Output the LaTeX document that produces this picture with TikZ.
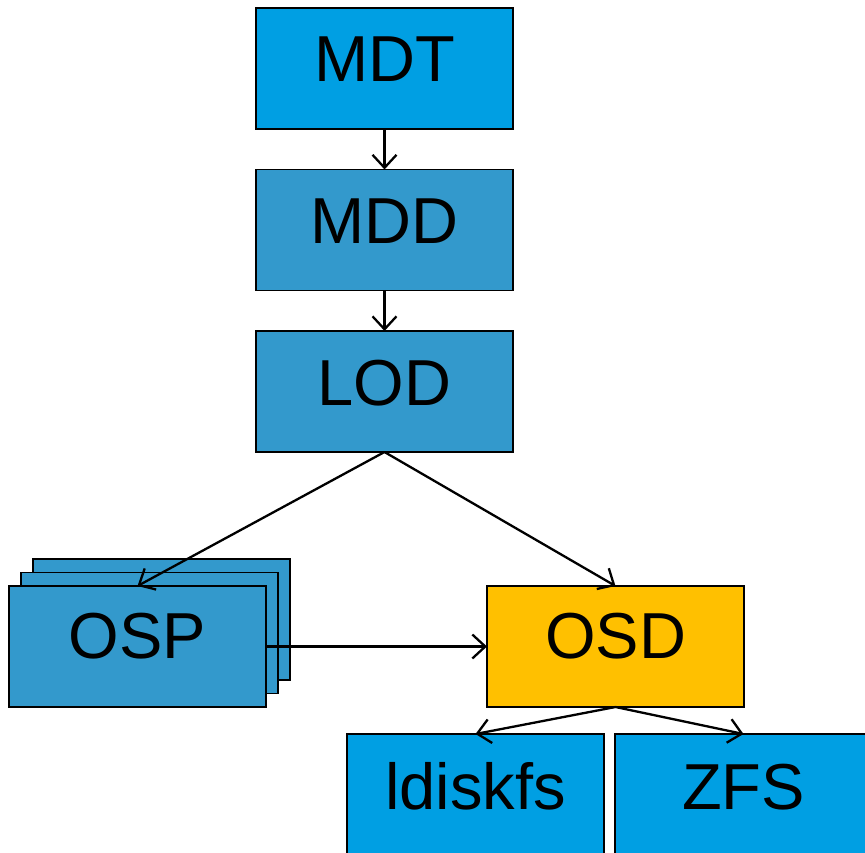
\documentclass[tikz,border=0pt]{standalone}
\usepackage{fontspec}
\setmainfont{Liberation Sans}
\usetikzlibrary{arrows.meta}
\definecolor{brightblue}{RGB}{0,159,227}
\definecolor{midblue}{RGB}{51,153,204}
\definecolor{amber}{RGB}{255,192,0}
\tikzset{
  box/.style={draw=black, line width=1.6pt, minimum width=257pt, minimum height=121pt,
              inner sep=0pt, outer sep=0pt, anchor=center},
  lbl/.style={anchor=base, inner sep=0pt, font=\fontsize{65}{65}\selectfont},
  link/.style={line width=2.3pt, -{Straight Barb[length=13pt,width=24pt,line width=2.3pt]}},
}
\begin{document}
\begin{tikzpicture}[x=1pt,y=-1pt]
  \useasboundingbox (0,0) rectangle (865,853);
  \clip (0,0) rectangle (865,853);

  % upper metadata stack
  \node[box, fill=brightblue] (mdt) at (384.5,68.5) {};
  \node[lbl] (mdtlbl) at ([yshift=-74pt]mdt.north) {MDT};
  \node[box, fill=midblue] (mdd) at (384.5,230) {};
  \node[lbl] (mddlbl) at ([yshift=-74pt]mdd.north) {MDD};
  \node[box, fill=midblue] (lod) at (384.5,391.5) {};
  \node[lbl] (lodlbl) at ([yshift=-74pt]lod.north) {LOD};

  % OSP: several stacked instances
  \node[box, fill=midblue] (ospc) at (161.5,619.5) {};
  \node[box, fill=midblue] (ospb) at (149.5,633) {};
  \node[box, fill=midblue] (osp) at (137.5,646.5) {};
  \node[lbl] (osplbl) at ([yshift=-72pt]osp.north) {OSP};

  % OSD and its back ends
  \node[box, fill=amber] (osd) at (615.5,646.5) {};
  \node[lbl] (osdlbl) at ([yshift=-72pt]osd.north) {OSD};
  \node[box, fill=brightblue] (ldiskfs) at (475.5,794.5) {};
  \node[lbl] (ldiskfslbl) at ([yshift=-75pt]ldiskfs.north) {ldiskfs};
  \node[box, fill=brightblue] (zfs) at (743.5,794.5) {};
  \node[lbl] (zfslbl) at ([yshift=-75pt]zfs.north) {ZFS};

  % connectors
  \draw[link] (mdt.south) -- (mdd.north);
  \draw[link] (mdd.south) -- (lod.north);
  \draw[link] (lod.south) -- (osp.north);
  \draw[link] (lod.south) -- (osd.north);
  \draw[link] (osp.east) -- (osd.west);
  \draw[link] (osd.south) -- (ldiskfs.north);
  \draw[link] (osd.south) -- (zfs.north);
\end{tikzpicture}
\end{document}
